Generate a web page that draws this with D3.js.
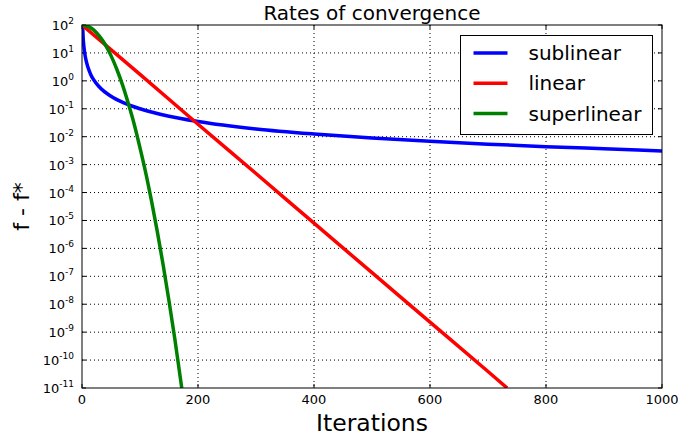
<!DOCTYPE html>
<html>
<head>
<meta charset="utf-8">
<script src="https://cdn.jsdelivr.net/npm/d3@7"></script>
<style>
  body { margin: 0; background: #fff; }
  text { font-family: "DejaVu Sans", sans-serif; fill: #000; }
</style>
</head>
<body>
<script>
// Valores
const subIter = [1, 2, 3, 5, 7, 10, 15, 20, 30, 50, 70, 100, 150, 200, 300, 400, 500, 600, 700, 800, 900, 1000];
const subVals = [100, 35, 19, 9, 5.4, 3.2, 1.7, 1.1, 0.6, 0.28, 0.17, 0.1, 0.054, 0.035, 0.019, 0.0125, 0.009, 0.0068, 0.0054, 0.0044, 0.0037, 0.0031];

const linIter = [0, 100, 200, 300, 400, 500, 600, 700, 733];
const linVals = [100, 1.7, 0.028, 4.8e-4, 8e-6, 1.35e-7, 2.3e-9, 3.9e-11, 1e-11];

const supIter = [0, 10, 20, 30, 40, 50, 60, 70, 80, 90, 100, 110, 120, 130, 140, 150, 160, 172];
const supVals = [100, 90, 67, 40, 20, 8, 2.6, 0.7, 0.15, 0.028, 4e-3, 5e-4, 4.8e-5, 3.8e-6, 2.5e-7, 1.3e-8, 5.8e-10, 1e-11];

const xTicks = [0, 200, 400, 600, 800, 1000];
const yExps = [2, 1, 0, -1, -2, -3, -4, -5, -6, -7, -8, -9, -10, -11];

const seriesNames = ["sublinear", "linear", "superlinear"];
const seriesColors = ["#0000ff", "#ff0000", "#008000"];

const W = 678, H = 437;
const margin = { top: 25, right: 16, bottom: 49, left: 82 };
const pw = W - margin.left - margin.right;
const ph = H - margin.top - margin.bottom;

const svg = d3.select("body").append("svg").attr("width", W).attr("height", H);

const x = d3.scaleLinear().domain([0, 1000]).range([0, pw]);
const y = d3.scaleLog().domain([1e-11, 1e2]).range([ph, 0]);

const g = svg.append("g").attr("transform", `translate(${margin.left},${margin.top})`);

svg.append("defs").append("clipPath").attr("id", "clip")
  .append("rect").attr("width", pw).attr("height", ph);

// grade pontilhada
g.selectAll(".gx").data(xTicks.slice(1, -1)).enter().append("line")
  .attr("x1", d => x(d)).attr("x2", d => x(d)).attr("y1", 0).attr("y2", ph)
  .attr("stroke", "#000").attr("stroke-width", 1).attr("stroke-dasharray", "1,3");
g.selectAll(".gy").data(yExps.slice(1, -1)).enter().append("line")
  .attr("y1", d => y(Math.pow(10, d))).attr("y2", d => y(Math.pow(10, d)))
  .attr("x1", 0).attr("x2", pw)
  .attr("stroke", "#000").attr("stroke-width", 1).attr("stroke-dasharray", "1,3");

// ticks internos nos quatro lados
const tl = 4;
xTicks.forEach(d => {
  g.append("line").attr("x1", x(d)).attr("x2", x(d)).attr("y1", ph).attr("y2", ph - tl).attr("stroke", "#000");
  g.append("line").attr("x1", x(d)).attr("x2", x(d)).attr("y1", 0).attr("y2", tl).attr("stroke", "#000");
  g.append("text").attr("x", x(d)).attr("y", ph + 16).attr("text-anchor", "middle")
    .style("font-size", "13px").text(d);
});
yExps.forEach(e => {
  const yy = y(Math.pow(10, e));
  g.append("line").attr("x1", 0).attr("x2", tl).attr("y1", yy).attr("y2", yy).attr("stroke", "#000");
  g.append("line").attr("x1", pw).attr("x2", pw - tl).attr("y1", yy).attr("y2", yy).attr("stroke", "#000");
  const t = g.append("text").attr("x", -8).attr("y", yy + 5).attr("text-anchor", "end")
    .style("font-size", "13px");
  t.append("tspan").text("10");
  t.append("tspan").attr("dy", -6).style("font-size", "9px").text(e);
});

// curvas
const line = d3.line().x(d => x(d[0])).y(d => y(d[1])).curve(d3.curveMonotoneX);
const series = [
  d3.zip(subIter, subVals),
  d3.zip(linIter, linVals),
  d3.zip(supIter, supVals)
];
const lines = g.append("g").attr("clip-path", "url(#clip)");
series.forEach((s, i) => {
  lines.append("path").datum(s).attr("d", line)
    .attr("fill", "none").attr("stroke", seriesColors[i]).attr("stroke-width", 3.5);
});

// moldura
g.append("rect").attr("width", pw).attr("height", ph)
  .attr("fill", "none").attr("stroke", "#000").attr("stroke-width", 1);

// legenda
const leg = svg.append("g").attr("transform", "translate(460.5,35.5)");
leg.append("rect").attr("width", 192).attr("height", 99)
  .attr("fill", "#fff").attr("stroke", "#000").attr("stroke-width", 1);
seriesNames.forEach((n, i) => {
  const ly = 17.5 + i * 30.3;
  leg.append("line").attr("x1", 13).attr("x2", 47).attr("y1", ly).attr("y2", ly)
    .attr("stroke", seriesColors[i]).attr("stroke-width", 3.5);
  leg.append("text").attr("x", 68).attr("y", ly + 7).style("font-size", "20px").text(n);
});

// títulos
svg.append("text").attr("x", margin.left + pw / 2).attr("y", 20).attr("text-anchor", "middle")
  .style("font-size", "20px").text("Rates of convergence");
svg.append("text").attr("x", margin.left + pw / 2).attr("y", 431).attr("text-anchor", "middle")
  .style("font-size", "23.5px").text("Iterations");
svg.append("text").attr("transform", `translate(29,${margin.top + ph / 2}) rotate(-90)`)
  .attr("text-anchor", "middle").style("font-size", "22px").text("f - f*");
</script>
</body>
</html>
